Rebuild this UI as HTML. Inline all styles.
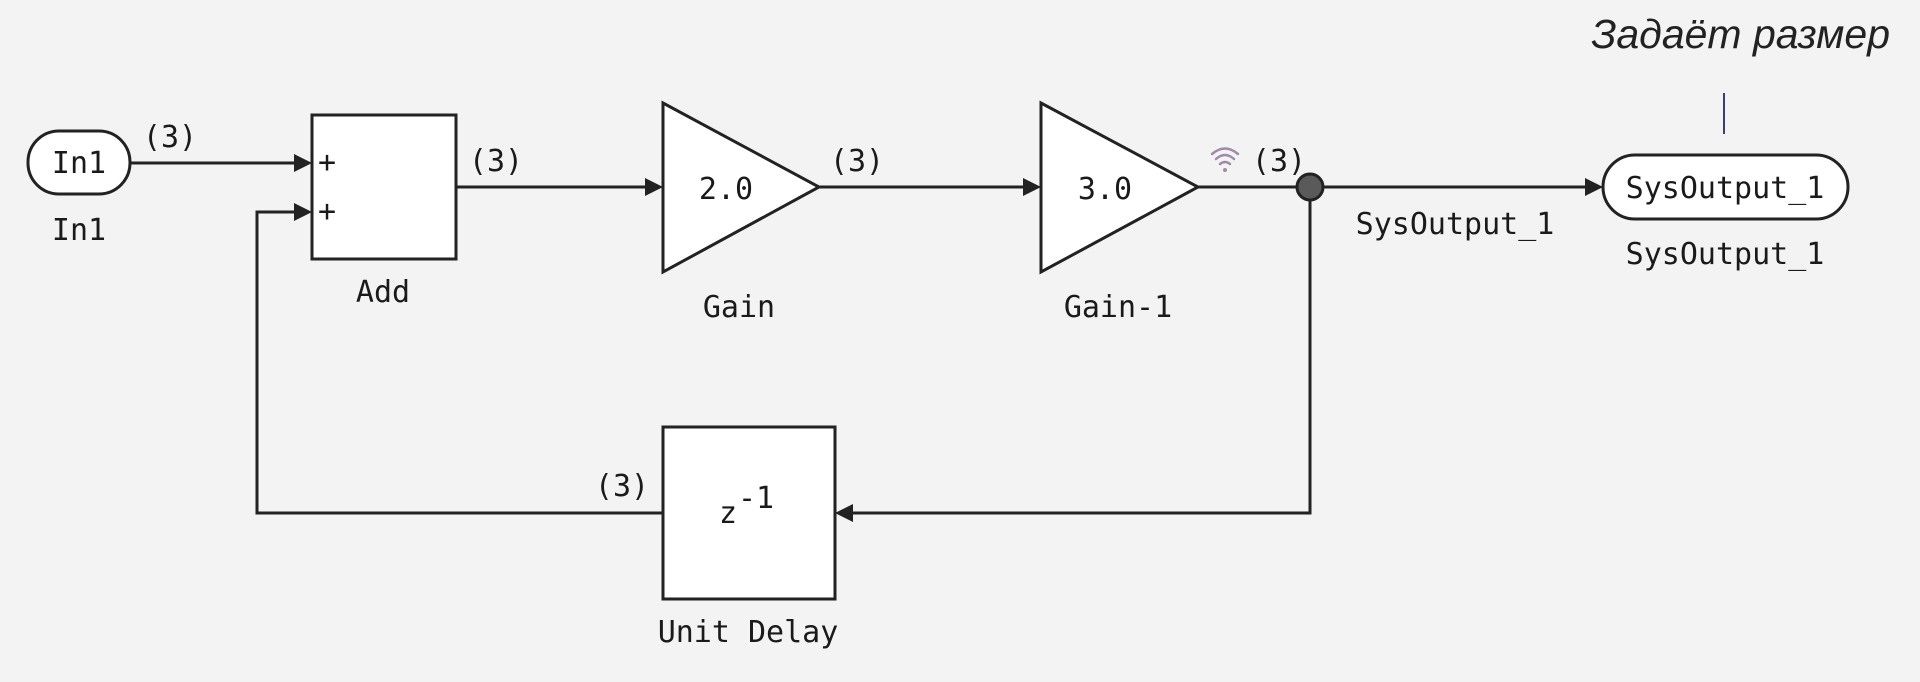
<!DOCTYPE html>
<html><head><meta charset="utf-8"><style>
html,body{margin:0;padding:0;background:#f3f3f3;}
svg{display:block}
text{font-family:"DejaVu Sans Mono","Liberation Mono",monospace;fill:#1a1a1a;font-size:30px}
</style></head><body>
<svg width="1920" height="682" viewBox="0 0 1920 682" xmlns="http://www.w3.org/2000/svg">
<rect width="1920" height="682" fill="#f3f3f3"/>
<g stroke="#222" stroke-width="3" fill="none">
<line x1="130" y1="163" x2="298" y2="163"/>
<polyline points="663,513 257,513 257,212 298,212"/>
<line x1="456" y1="187" x2="648" y2="187"/>
<line x1="819" y1="187" x2="1026" y2="187"/>
<line x1="1198" y1="187" x2="1588" y2="187"/>
<polyline points="1310,187 1310,513 850,513"/>
</g>
<g fill="#222">
<polygon points="312,163 294,154 294,172"/>
<polygon points="312,212 294,203 294,221"/>
<polygon points="663,187 645,178 645,196"/>
<polygon points="1041,187 1023,178 1023,196"/>
<polygon points="1603,187 1585,178 1585,196"/>
<polygon points="835,513 853,504 853,522"/>
</g>
<g stroke="#222" stroke-width="3" fill="#fff">
<rect x="28" y="131" width="102" height="63" rx="31"/>
<rect x="312" y="115" width="144" height="144"/>
<polygon points="663,103 819,187 663,272"/>
<polygon points="1041,103 1198,187 1041,272"/>
<rect x="663" y="427" width="172" height="172"/>
<rect x="1603" y="155" width="245" height="64" rx="32"/>
</g>
<circle cx="1310" cy="187" r="13" fill="#5a5a5a" stroke="#222" stroke-width="3"/>
<g stroke="#a08aa8" stroke-width="2.5" fill="none" stroke-linecap="round">
<path d="M1212,154 Q1225,143 1238,154"/>
<path d="M1216,159 Q1225,151 1234,159"/>
<path d="M1220,164 Q1225,160 1230,164"/>
</g>
<circle cx="1225" cy="170" r="2" fill="#a08aa8"/>
<text x="79" y="173" text-anchor="middle">In1</text>
<text x="79" y="240" text-anchor="middle">In1</text>
<text x="170" y="147" text-anchor="middle">(3)</text>
<text x="318" y="172" font-size="18">+</text>
<text x="318" y="221" font-size="18">+</text>
<text x="383" y="302" text-anchor="middle">Add</text>
<text x="496" y="171" text-anchor="middle">(3)</text>
<text x="726" y="199" text-anchor="middle">2.0</text>
<text x="739" y="317" text-anchor="middle">Gain</text>
<text x="857" y="171" text-anchor="middle">(3)</text>
<text x="1105" y="199" text-anchor="middle">3.0</text>
<text x="1118" y="317" text-anchor="middle">Gain-1</text>
<text x="1279" y="171" text-anchor="middle">(3)</text>
<text x="1455" y="234" text-anchor="middle">SysOutput_1</text>
<text x="1725" y="198" text-anchor="middle">SysOutput_1</text>
<text x="1725" y="264" text-anchor="middle">SysOutput_1</text>
<text x="622" y="496" text-anchor="middle">(3)</text>
<text x="728" y="523" text-anchor="middle">z</text>
<text x="756" y="508" text-anchor="middle" font-size="22">-1</text>
<text x="748" y="642" text-anchor="middle">Unit Delay</text>
<line x1="1724" y1="93" x2="1724" y2="134" stroke="#3a3f7a" stroke-width="2"/>
<text x="1890" y="48" text-anchor="end" style="font-family:'Liberation Sans','DejaVu Sans',sans-serif;font-style:italic;font-size:41px;fill:#222">Задаёт размер</text>
</svg>
</body></html>
